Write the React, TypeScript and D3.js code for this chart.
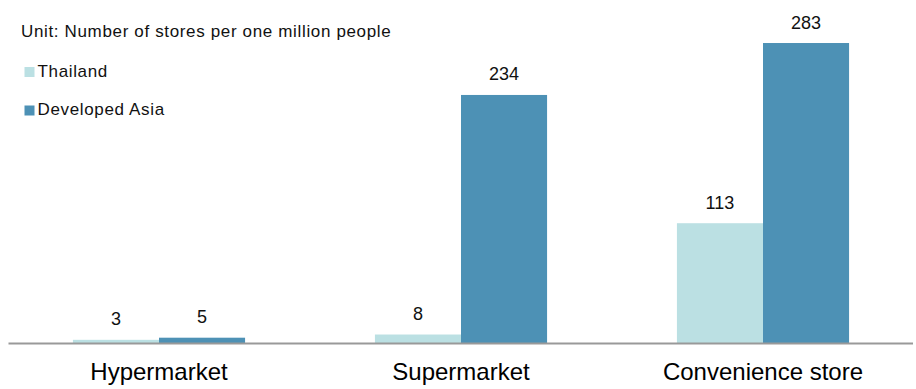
import React from "react";
import * as d3 from "d3";

const categories = ["Hypermarket", "Supermarket", "Convenience store"];
const seriesNames = ["Thailand", "Developed Asia"];
const thailand = [3, 8, 113];
const developedAsia = [5, 234, 283];
const colors = ["#bbe0e3", "#4d91b5"];

const W = 916;
const H = 389;

export default function App() {
  const x0 = d3.scaleBand<string>().domain(categories).range([8, 914]).paddingInner(0.43).paddingOuter(0.215);
  const x1 = d3.scaleBand<string>().domain(seriesNames).range([0, x0.bandwidth()]).padding(0);
  const y = d3.scaleLinear().domain([0, 300]).range([343, 343 - 318]);
  const series = [thailand, developedAsia];
  const font = "Arial, 'Liberation Sans', sans-serif";

  return (
    <svg width={W} height={H} style={{ position: "absolute", left: 0, top: 0, background: "#fff" }}>
      <text x={21} y={36.5} fontFamily={font} fontSize={17} letterSpacing={0.65} fill="#111">
        Unit: Number of stores per one million people
      </text>
      {seriesNames.map((s, i) => (
        <g key={s}>
          <rect x={24.5} y={i === 0 ? 67 : 105.5} width={10} height={10} fill={colors[i]} />
          <text x={37.5} y={i === 0 ? 76.5 : 115} fontFamily={font} fontSize={17} letterSpacing={0.65} fill="#111">
            {s}
          </text>
        </g>
      ))}
      {categories.map((c, ci) => (
        <g key={c}>
          {seriesNames.map((s, si) => {
            const v = series[si][ci];
            const bx = (x0(c) ?? 0) + (x1(s) ?? 0);
            return (
              <g key={s}>
                <rect x={bx} y={y(v)} width={x1.bandwidth()} height={y(0) - y(v)} fill={colors[si]} />
                <text
                  x={bx + x1.bandwidth() / 2}
                  y={y(v) - 14.5}
                  textAnchor="middle"
                  fontFamily={font}
                  fontSize={18}
                  fill="#111"
                >
                  {v}
                </text>
              </g>
            );
          })}
          <text
            x={(x0(c) ?? 0) + x0.bandwidth() / 2}
            y={380}
            textAnchor="middle"
            fontFamily={font}
            fontSize={24}
            fill="#000"
          >
            {c}
          </text>
        </g>
      ))}
      <line x1={8.5} x2={913} y1={343.5} y2={343.5} stroke="#999" strokeWidth={2} />
    </svg>
  );
}
